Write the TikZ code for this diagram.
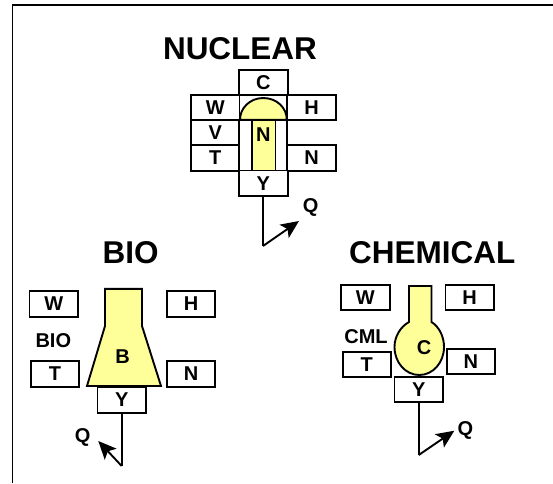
\documentclass[tikz,border=0pt]{standalone}
\usepackage{fontspec}
\setmainfont{Liberation Sans}
\usetikzlibrary{arrows.meta}
\definecolor{fillY}{RGB}{255,255,153}
\tikzset{
  x=1pt,y=-1pt,
  line/.style={draw=black,line width=1.9pt},
  lab/.style={font=\fontsize{20}{22}\selectfont\bfseries,inner sep=0pt},
  ttl/.style={font=\fontsize{31.5}{34}\selectfont\bfseries,inner sep=0pt},
  boxn/.style={line,fill=white,inner sep=0pt,minimum width=48.5pt,minimum height=25.5pt,font=\fontsize{20}{22}\selectfont\bfseries},
  shapey/.style={line,fill=fillY,line join=miter},
  arr/.style={draw=black,line width=1.9pt,-{Stealth[length=18pt,width=16pt,inset=4pt]}}
}
\begin{document}
\begin{tikzpicture}
\useasboundingbox (0,0) rectangle (553,483);
\fill[white] (0,0) rectangle (553,483);
\draw[line] (12.5,483) -- (12.5,5) -- (553,5);
% Nuclear
\node[ttl] (t1) at (240,49) {NUCLEAR};
\node[boxn] (nc) at (263.3,82.5) {C};
\node[boxn] (nw) at (215.2,107.5) {W};
\node[boxn] (nh) at (311.6,107.5) {H};
\node[boxn] (nv) at (215.2,132.5) {V};
\node[boxn] (nt) at (215.2,158) {T};
\node[boxn] (nn) at (311.6,158) {N};
\draw[line] (239.3,120) rectangle (287.3,170.5);
\node[boxn] (ny) at (263.3,183.2) {Y};
\draw[shapey] (252,120) rectangle (275.5,170.5);
\draw[shapey] (240,119.7) .. controls (240,108) and (250,98) .. (263.3,98) .. controls (277,98) and (286.8,108) .. (286.8,119.7) -- cycle;
\node[lab] (nl) at (263.3,135) {N};
\coordinate (nb) at (263,246);
\node[lab] (nq) at (310.7,207.7) {Q};
\coordinate (na) at (299,221);
\draw[line] (ny.south) -- (ny.south |- nb);
\draw[arr] (nb) -- (na);
% Bio
\node[ttl] (t2) at (130.7,252.7) {BIO};
\node[boxn] (bw) at (53.7,304) {W};
\node[boxn] (bh) at (191,304) {H};
\node[lab] (bl) at (53.3,340.7) {BIO};
\node[boxn] (bt) at (55,374) {T};
\node[boxn] (bn) at (191,374) {N};
\draw[shapey] (105,288.8) -- (142,288.8) -- (142,326) -- (161,386) -- (87,386) -- (105,326) -- cycle;
\node[lab] (bb) at (122.7,356.7) {B};
\node[boxn] (by) at (121.7,400) {Y};
\coordinate (bq0) at (121.7,466);
\coordinate (bqa) at (98.3,441);
\node[lab] (bq) at (82.7,437.3) {Q};
\draw[line] (by.south) -- (bq0);
\draw[arr] (bq0) -- (bqa);
% Chemical
\node[ttl] (t3) at (432.3,252.7) {CHEMICAL};
\node[boxn] (cw) at (365.3,297.5) {W};
\node[boxn] (ch) at (469.7,297.5) {H};
\node[lab] (cl) at (366,336.7) {CML};
\node[boxn] (ct) at (366.8,364.3) {T};
\node[boxn] (cn) at (470.8,361.5) {N};
\draw[shapey] (409,286) -- (431.5,286) -- (431.5,322) .. controls (439.5,327) and (444,337) .. (444,347) .. controls (444,362.5) and (433,375) .. (419.3,375) .. controls (405.5,375) and (394.5,362.5) .. (394.5,347) .. controls (394.5,337) and (400,327) .. (409,322) -- cycle;
\node[lab] (cc) at (424,347.7) {C};
\node[boxn] (cy) at (418.7,389.3) {Y};
\coordinate (cq0) at (418.7,455);
\coordinate (cqa) at (454.3,430.7);
\node[lab] (cq) at (465.3,430.7) {Q};
\draw[line] (cy.south) -- (cq0);
\draw[arr] (cq0) -- (cqa);
\end{tikzpicture}
\end{document}
